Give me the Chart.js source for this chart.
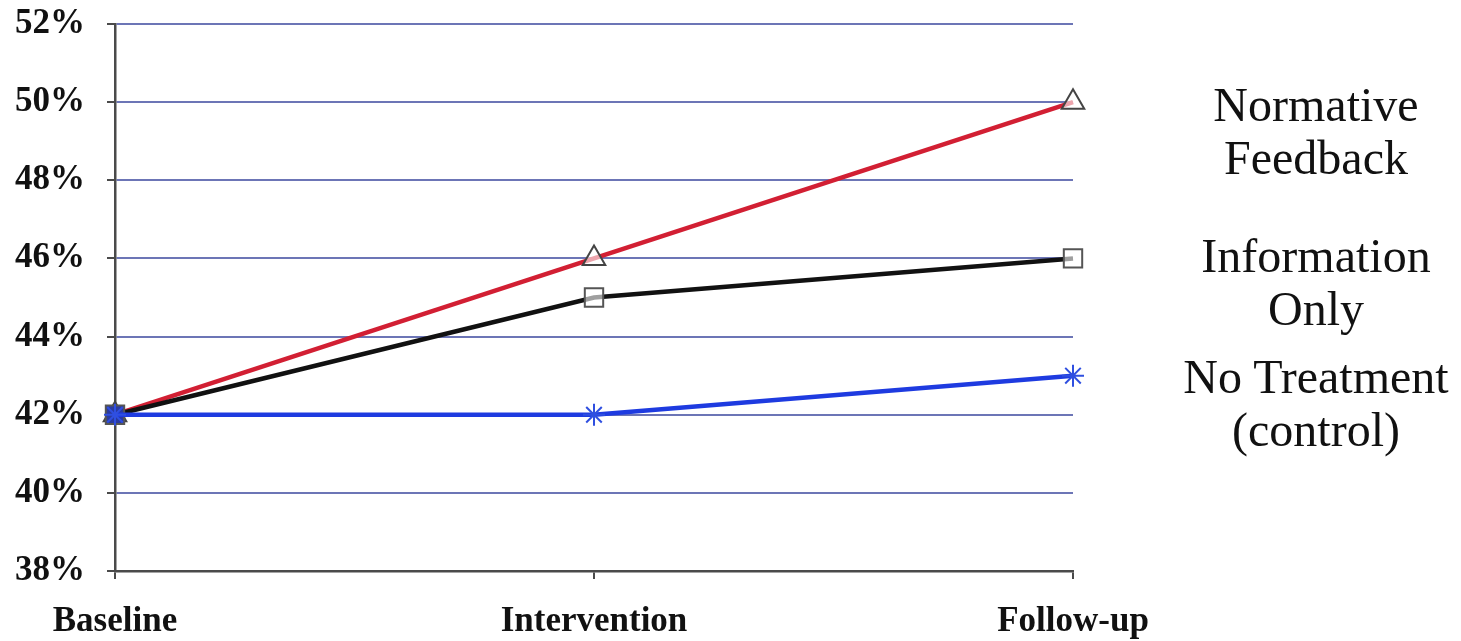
<!DOCTYPE html>
<html>
<head>
<meta charset="utf-8">
<script src="https://cdn.jsdelivr.net/npm/chart.js@4.4.1/dist/chart.umd.min.js"></script>
<style>
  body { margin: 0; background: #fff; }
  #wrap { position: relative; width: 1461px; height: 641px; }
  .lbl {
    position: absolute; width: 340px; left: 1146px; text-align: center;
    font-family: "Liberation Serif", "DejaVu Serif", serif; font-size: 48px;
    line-height: 53px; color: #111;
  }
</style>
</head>
<body>
<div id="wrap">
  <canvas id="myChart"></canvas>
  <div class="lbl" style="top:78px">Normative<br>Feedback</div>
  <div class="lbl" style="top:229px">Information<br>Only</div>
  <div class="lbl" style="top:350px">No Treatment<br>(control)</div>
</div>
<script>
// chart values
const phases = ['Baseline', 'Intervention', 'Follow-up'];
const normative = [42, 46, 50];
const infoOnly = [42, 45, 46];
const noTreatment = [42, 42, 43];
const yTicks = [38, 40, 42, 44, 46, 48, 50, 52];

const GRID = '#6c75b6';
const AXIS = '#4a4a4a';

const ctx = document.querySelector('#myChart');

const data = {
    labels: phases,
    datasets: [
        {
            label: 'No Treatment (control)',
            data: noTreatment,
            borderColor: '#1e3be0',
            borderWidth: 4.5,
            pointStyle: 'star',
            pointRadius: 11,
            pointBorderWidth: 2,
            pointBorderColor: '#2f4fe0',
            pointBackgroundColor: '#2f4fe0',
            order: 0,
            clip: false
        },
        {
            label: 'Information Only',
            data: infoOnly,
            borderColor: '#111',
            borderWidth: 4.5,
            pointStyle: 'rect',
            pointRadius: 13,
            pointBorderWidth: 2,
            pointBorderColor: '#555',
            pointBackgroundColor: ['#2a3aa0', 'rgba(255,255,255,0.6)', 'rgba(255,255,255,0.6)'],
            order: 1,
            clip: false
        },
        {
            label: 'Normative Feedback',
            data: normative,
            borderColor: '#d21f33',
            borderWidth: 4.5,
            pointStyle: 'triangle',
            pointRadius: 13,
            pointBorderWidth: 2,
            pointBorderColor: '#444',
            pointBackgroundColor: 'rgba(255,255,255,0.6)',
            order: 2,
            clip: false
        }
    ]
};

const config = {
    type: 'line',
    data: data,
    options: {
        responsive: true,
        maintainAspectRatio: false,
        animation: false,
        layout: { padding: { top: 24, right: 388, bottom: 0, left: 0 } },
        plugins: {
            legend: { display: false },
            tooltip: { enabled: false }
        },
        scales: {
            x: {
                offset: false,
                afterFit: (s) => { s.height = 70; s.paddingLeft = 0; s.paddingRight = 0; },
                border: { color: AXIS, width: 2.5 },
                grid: { drawOnChartArea: false, drawTicks: true, tickLength: 8, tickColor: AXIS, lineWidth: 2 },
                ticks: {
                    padding: 22,
                    color: '#111',
                    font: { family: 'Liberation Serif', size: 35, weight: 'bold' }
                }
            },
            y: {
                min: 38,
                max: 52,
                afterFit: (s) => { s.width = 115; s.paddingTop = 0; s.paddingBottom = 0; },
                afterBuildTicks: (s) => { s.ticks = yTicks.map(v => ({ value: v })); },
                border: { color: AXIS, width: 2.5 },
                grid: {
                    color: (c) => c.tick && c.tick.value === 38 ? AXIS : GRID,
                    lineWidth: 2,
                    tickLength: 8,
                    tickColor: AXIS
                },
                ticks: {
                    padding: 22,
                    color: '#111',
                    font: { family: 'Liberation Serif', size: 35, weight: 'bold' },
                    callback: (v) => v + '%'
                }
            }
        }
    }
};

new Chart(ctx, config);
</script>
</body>
</html>
